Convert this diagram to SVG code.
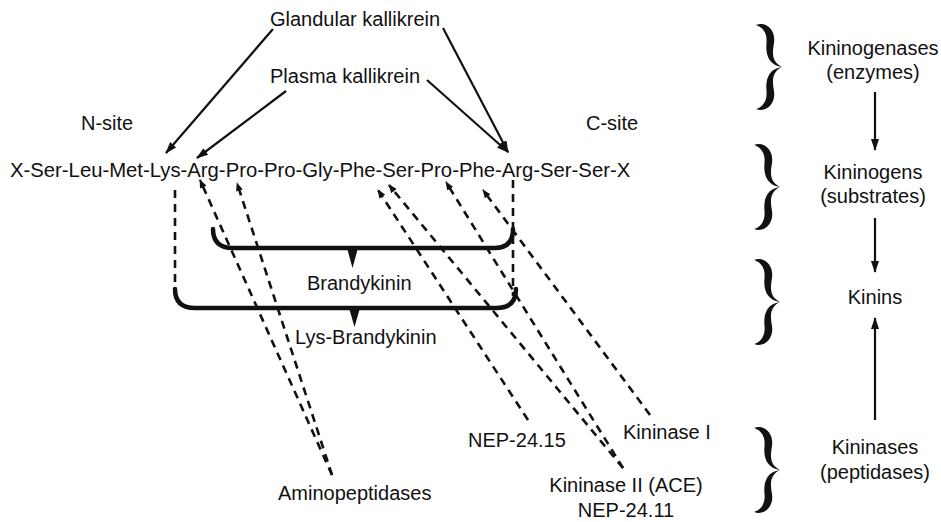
<svg xmlns="http://www.w3.org/2000/svg" width="941" height="522" viewBox="0 0 941 522">
<style>
text{font-family:"Liberation Sans",Arial,sans-serif;font-size:20px;fill:#111}
.c{text-anchor:middle}
.solid{stroke:#111;stroke-width:2.2;fill:none}
.dash{stroke:#111;stroke-width:2.6;fill:none;stroke-dasharray:8 6}
.brk{stroke:#111;stroke-width:4.5;fill:none;stroke-linecap:round}
.brace{fill:#111}
</style>
<defs>
<marker id="ah" viewBox="0 0 12 8" refX="11" refY="4" markerWidth="12" markerHeight="8" markerUnits="userSpaceOnUse" orient="auto"><path d="M0,0 L12,4 L0,8 z" fill="#111"/></marker>
<marker id="ad" viewBox="0 0 10 8" refX="9" refY="4" markerWidth="9" markerHeight="7" markerUnits="userSpaceOnUse" orient="auto"><path d="M0,0 L10,4 L0,8 z" fill="#111"/></marker>
<path id="br" class="brace" d="M0,1 C10,-3 20,6 18,19 C16,30 16,38 26,43 C12,41 9.5,30 10.5,19 C11.5,8 6,3 0,1 Z M0,85 C10,89 20,80 18,67 C16,56 16,48 26,43 C12,45 9.5,56 10.5,67 C11.5,78 6,83 0,85 Z"/>
</defs>
<rect width="941" height="522" fill="#fff"/>

<g id="connectors">
<line class="solid" x1="273" y1="29" x2="166" y2="153" marker-end="url(#ah)"/>
<line class="solid" x1="286" y1="91" x2="197" y2="158" marker-end="url(#ah)"/>
<line class="solid" x1="443" y1="28" x2="508" y2="152" marker-end="url(#ah)"/>
<line class="solid" x1="427" y1="80" x2="508" y2="152" marker-end="url(#ah)"/>
<line class="dash" x1="332" y1="475" x2="200" y2="180" marker-end="url(#ad)"/>
<line class="dash" x1="332" y1="475" x2="237" y2="183" marker-end="url(#ad)"/>
<line class="dash" x1="528" y1="420" x2="378" y2="190" marker-end="url(#ad)"/>
<line class="dash" x1="623" y1="468" x2="389" y2="185" marker-end="url(#ad)"/>
<line class="dash" x1="623" y1="468" x2="446" y2="182" marker-end="url(#ad)"/>
<line class="dash" x1="650" y1="415" x2="483" y2="190" marker-end="url(#ad)"/>
<line class="dash" x1="175" y1="190" x2="175" y2="286"/>
<line class="dash" x1="513" y1="180" x2="513" y2="296"/>
<path class="brk" d="M213,229 Q213,248 233,248 L495,248 Q513,248 513,229"/>
<path d="M347,248 L358,248 L352.5,268 Z" fill="#111"/>
<path class="brk" d="M175,289 Q175,308 195,308 L497,308 Q516,308 516,289"/>
<path d="M349,308 L360,308 L354.5,327 Z" fill="#111"/>
<line class="solid" x1="875" y1="92" x2="875" y2="150" marker-end="url(#ah)"/>
<line class="solid" x1="875" y1="218" x2="875" y2="272" marker-end="url(#ah)"/>
<line class="solid" x1="875" y1="420" x2="875" y2="318" marker-end="url(#ah)"/>
<use href="#br" x="756" y="24"/>
<use href="#br" x="754" y="144"/>
<use href="#br" x="754" y="259"/>
<use href="#br" x="754" y="427"/>
</g>

<g id="glandular"><text x="270" y="26">Glandular kallikrein</text></g>
<g id="plasma"><text x="270" y="83">Plasma kallikrein</text></g>
<g id="nsite"><text x="81" y="130">N-site</text></g>
<g id="csite"><text x="586" y="130">C-site</text></g>
<g id="sequence"><text x="10" y="177" style="font-size:20.3px">X-Ser-Leu-Met-Lys-Arg-Pro-Pro-Gly-Phe-Ser-Pro-Phe-Arg-Ser-Ser-X</text></g>
<g id="bradykinin"><text x="307" y="290">Brandykinin</text></g>
<g id="lysbradykinin"><text x="295" y="344">Lys-Brandykinin</text></g>
<g id="nep2415"><text x="468" y="447">NEP-24.15</text></g>
<g id="kininase1"><text x="623" y="439">Kininase I</text></g>
<g id="aminopeptidases"><text x="278" y="500">Aminopeptidases</text></g>
<g id="kininase2"><text class="c" x="626" y="492">Kininase II (ACE)</text><text class="c" x="626" y="517">NEP-24.11</text></g>
<g id="kininogenases"><text class="c" x="873" y="55">Kininogenases</text><text class="c" x="873" y="79">(enzymes)</text></g>
<g id="kininogens"><text class="c" x="873" y="179">Kininogens</text><text class="c" x="873" y="203">(substrates)</text></g>
<g id="kinins"><text class="c" x="875" y="304">Kinins</text></g>
<g id="kininases"><text class="c" x="875" y="454">Kininases</text><text class="c" x="875" y="479">(peptidases)</text></g>
</svg>
